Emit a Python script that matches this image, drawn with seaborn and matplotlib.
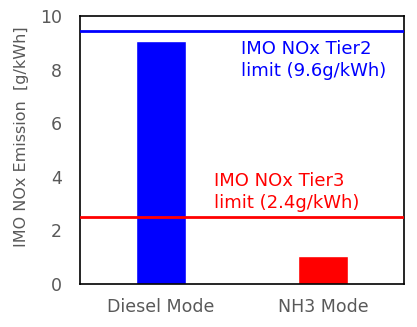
import matplotlib
matplotlib.use("Agg")
import matplotlib.pyplot as plt
import seaborn as sns
import pandas as pd

categories = ["Diesel Mode", "NH3 Mode"]
values = [9.05, 1.05]
bar_colors = ["#0000FF", "#FF0000"]
limit_values = [9.45, 2.5]
limit_colors = ["#0000FF", "#FF0000"]
limit_labels = ["IMO NOx Tier2\nlimit (9.6g/kWh)", "IMO NOx Tier3\nlimit (2.4g/kWh)"]
yticks = [0, 2, 4, 6, 8, 10]

sns.set_style("white")
plt.rcParams['font.family'] = ['DejaVu Sans']

df = pd.DataFrame({"mode": categories, "value": values})

fig = plt.figure(figsize=(4.17, 3.27), dpi=100)
ax = fig.add_axes([80/417, 1 - 284/327, 324/417, 268/327])

sns.barplot(data=df, x="mode", y="value", hue="mode", palette=bar_colors,
            width=0.31, legend=False, ax=ax, saturation=1)

for v, c in zip(limit_values, limit_colors):
    ax.axhline(v, color=c, lw=2, zorder=3)

ax.text(0.494, 9.12, limit_labels[0], color=limit_colors[0], fontsize=13,
        va="top", ha="left", linespacing=1.3)
ax.text(0.327, 4.18, limit_labels[1], color=limit_colors[1], fontsize=13,
        va="top", ha="left", linespacing=1.3)

ax.set_xlim(-0.5, 1.5)
ax.set_ylim(0, 10)
ax.set_yticks(yticks)
ax.set_xlabel("")
ax.set_ylabel("IMO NOx Emission  [g/kWh]", color="#595959", fontsize=11.5)
ax.yaxis.set_label_coords(-0.157, 0.55)
ax.tick_params(axis="both", colors="#595959", labelsize=12.5, length=0)
ax.tick_params(axis="y", pad=13)
ax.tick_params(axis="x", pad=10)
for s in ax.spines.values():
    s.set_color("black")
    s.set_linewidth(1.2)

fig.savefig("out.png", dpi=100)
